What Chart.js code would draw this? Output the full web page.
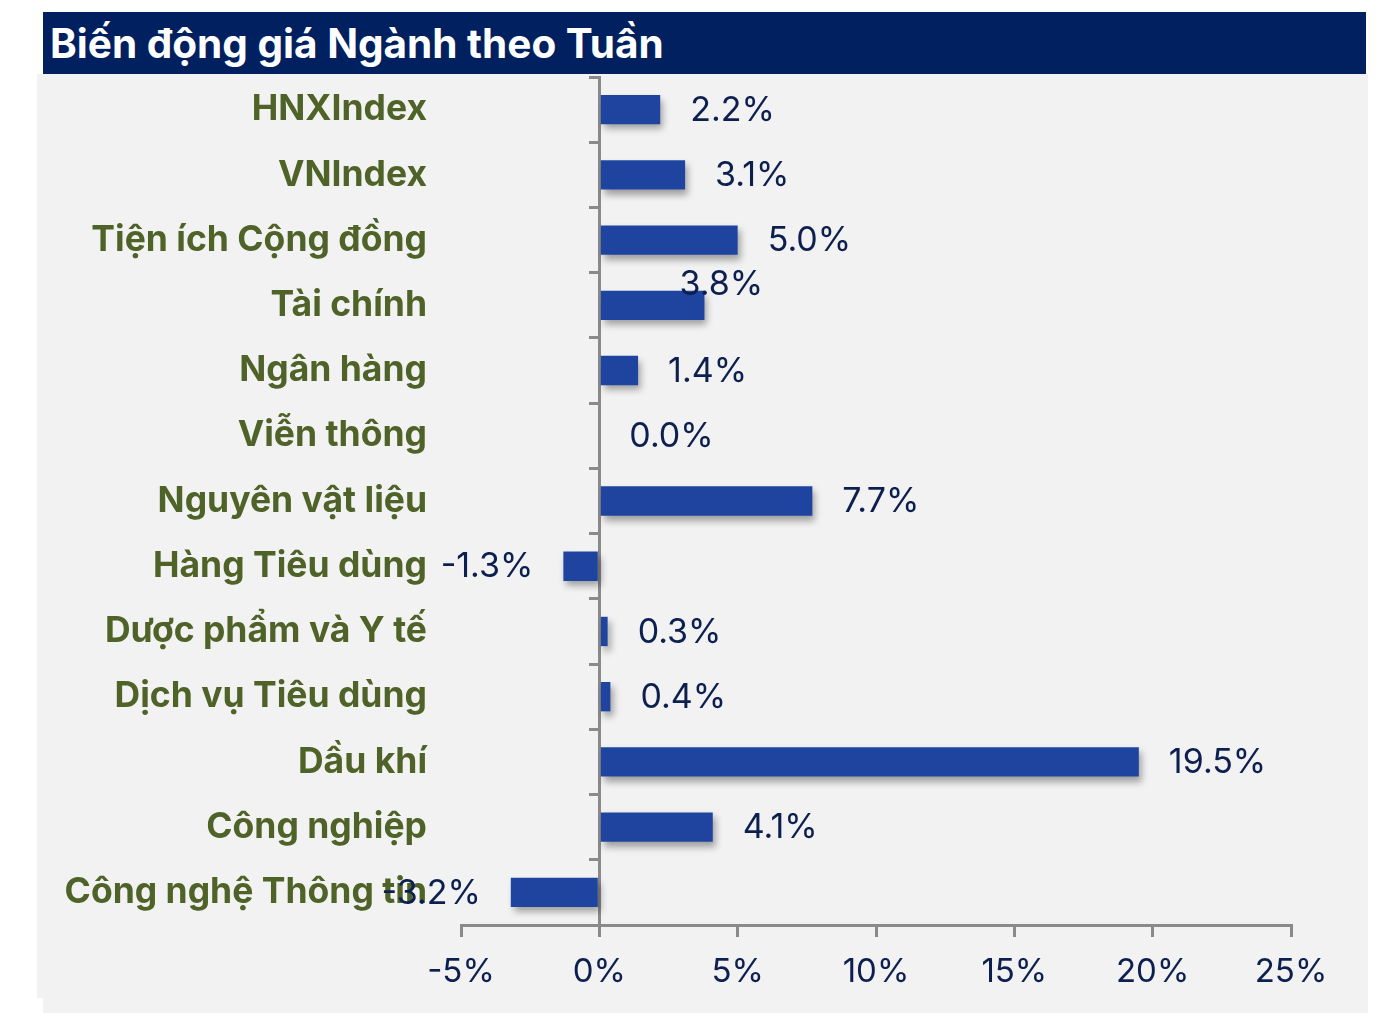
<!DOCTYPE html>
<html>
<head>
<meta charset="utf-8">
<script src="https://cdn.jsdelivr.net/npm/chart.js@4.4.1/dist/chart.umd.min.js"></script>
<style>
  html, body { margin: 0; padding: 0; background: #ffffff; width: 1386px; height: 1013px; overflow: hidden; }
  #header { position: absolute; left: 43px; top: 12px; width: 1323px; height: 62px; background: #002060;
    color: #ffffff; font-family: Inter, "Noto Sans", sans-serif; font-weight: 700; font-size: 40.5px;
    line-height: 64px; padding-left: 7px; box-sizing: border-box; white-space: nowrap; }
  #bg1 { position: absolute; left: 37px; top: 74px; width: 1331px; height: 924px; background: #f2f2f2; }
  #bg2 { position: absolute; left: 43px; top: 998px; width: 1325px; height: 15px; background: #f2f2f2; }
  #wrap { position: absolute; left: 37px; top: 74px; width: 1331px; height: 939px; }
</style>
</head>
<body>
<div id="header">Biến động giá Ngành theo Tuần</div>
<div id="bg1"></div>
<div id="bg2"></div>
<div id="wrap"><canvas id="c"></canvas></div>
<script>
const categories = [
  "HNXIndex", "VNIndex", "Tiện ích Cộng đồng", "Tài chính", "Ngân hàng", "Viễn thông",
  "Nguyên vật liệu", "Hàng Tiêu dùng", "Dược phẩm và Y tế", "Dịch vụ Tiêu dùng",
  "Dầu khí", "Công nghiệp", "Công nghệ Thông tin"
];
const weeklyChange = [2.2, 3.1, 5.0, 3.8, 1.4, 0.0, 7.7, -1.3, 0.3, 0.4, 19.5, 4.1, -3.2];
const xMin = -5, xMax = 25, xStep = 5;

const NAVY = '#0c1f4f';
const OLIVE = '#4f6228';
const AXIS = '#8a8a8a';

const shadowPlugin = {
  id: 'barShadow',
  beforeDatasetsDraw(chart) {
    const ctx = chart.ctx;
    ctx.save();
    ctx.shadowColor = 'rgba(0,0,0,0.35)';
    ctx.shadowBlur = 7;
    ctx.shadowOffsetX = 3;
    ctx.shadowOffsetY = 5;
  },
  afterDatasetsDraw(chart) {
    chart.ctx.restore();
  }
};

const valueLabelPlugin = {
  id: 'valueLabels',
  afterDraw(chart, args, opts) {
    const ctx = chart.ctx;
    const meta = chart.getDatasetMeta(0);
    const data = chart.data.datasets[0].data;
    const shifts = opts.shifts || {};
    ctx.save();
    ctx.font = '34px Inter, "Noto Sans", sans-serif';
    ctx.fillStyle = NAVY;
    ctx.textBaseline = 'middle';
    meta.data.forEach((bar, i) => {
      const v = data[i];
      const txt = v.toFixed(1) + '%';
      const sh = shifts[i] || [0, 0];
      if (v < 0) {
        ctx.textAlign = 'right';
        ctx.fillText(txt, bar.x - opts.gap + sh[0], bar.y + 1 + sh[1]);
      } else {
        ctx.textAlign = 'left';
        ctx.fillText(txt, bar.x + opts.gap + sh[0], bar.y + 1 + sh[1]);
      }
    });
    ctx.restore();
  }
};

function build() {
  new Chart(document.getElementById('c'), {
    type: 'bar',
    data: {
      labels: categories,
      datasets: [{
        data: weeklyChange,
        backgroundColor: '#1f44a0',
        borderWidth: 0,
        categoryPercentage: 1,
        barPercentage: 0.45,
        yAxisID: 'y'
      }]
    },
    options: {
      indexAxis: 'y',
      responsive: true,
      maintainAspectRatio: false,
      animation: false,
      events: [],
      layout: { padding: { top: 3, right: 77, bottom: 0, left: 0 } },
      plugins: {
        legend: { display: false },
        tooltip: { enabled: false },
        valueLabels: { gap: 30, shifts: { 3: [-55, -22] } }
      },
      scales: {
        x: {
          type: 'linear',
          min: xMin, max: xMax,
          ticks: {
            stepSize: xStep,
            callback: v => v + '%',
            color: NAVY,
            font: { family: 'Inter, "Noto Sans", sans-serif', size: 33 },
            padding: 15,
            maxRotation: 0
          },
          grid: { drawOnChartArea: false, drawTicks: true, tickLength: 12, color: AXIS, lineWidth: 3 },
          border: { display: true, color: AXIS, width: 3 },
          afterFit: s => { s.height = 88; }
        },
        y: {
          type: 'category',
          position: 'left',
          offset: true,
          ticks: {
            color: OLIVE,
            font: { family: 'Inter, "Noto Sans", sans-serif', size: 35.5, weight: 'bold' },
            padding: 34,
            autoSkip: false
          },
          grid: { display: false, drawTicks: false },
          border: { display: false },
          afterFit: s => { s.width = 424; s.paddingTop = 0; s.paddingBottom = 0; }
        },
        y2: {
          type: 'category',
          labels: categories,
          position: { x: 0 },
          offset: true,
          z: 1,
          ticks: { display: false },
          grid: { offset: true, drawOnChartArea: false, drawTicks: true, tickLength: 9, color: AXIS, lineWidth: 3 },
          border: { display: true, color: AXIS, width: 3 },
          afterFit: s => { s.paddingTop = 0; s.paddingBottom = 0; }
        }
      }
    },
    plugins: [shadowPlugin, valueLabelPlugin]
  });
}

let built = false;
function go() { if (!built) { built = true; build(); } }
if (document.fonts && document.fonts.load) {
  Promise.all([
    document.fonts.load('bold 32px Inter'),
    document.fonts.load('32px Inter')
  ]).then(go, go);
  setTimeout(go, 800);
} else {
  go();
}
</script>
</body>
</html>
